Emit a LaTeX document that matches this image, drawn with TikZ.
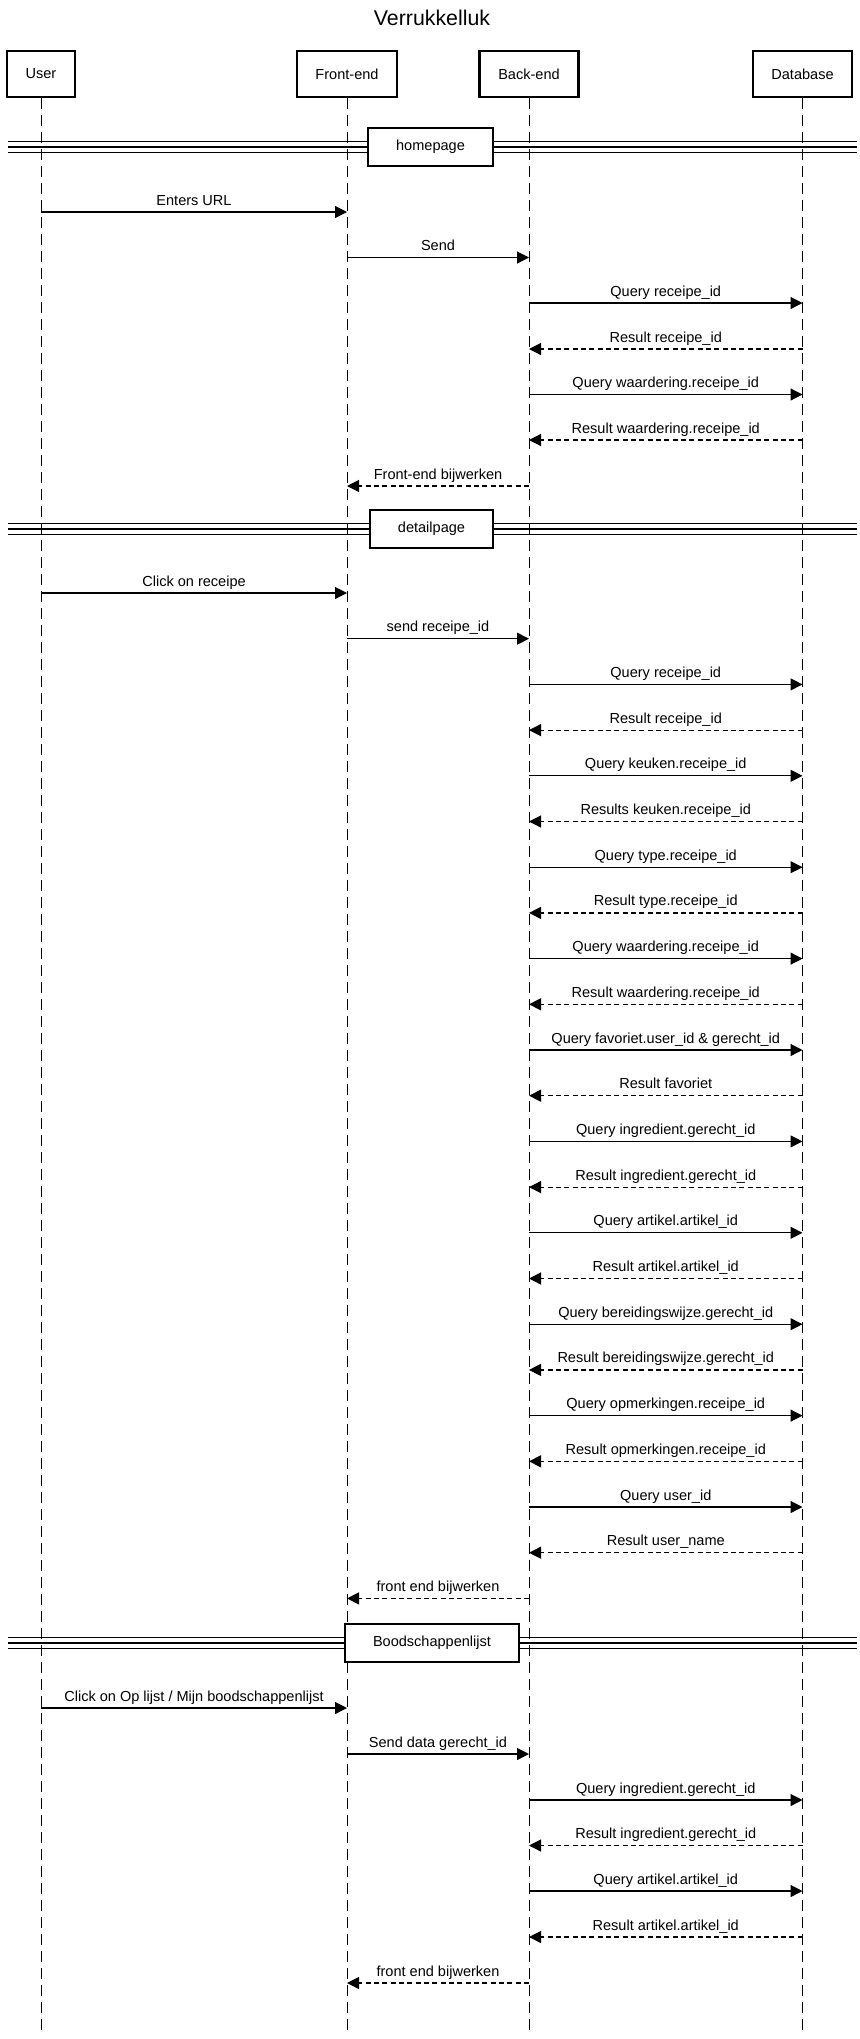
\documentclass[tikz,border=0pt]{standalone}
\usepackage{fontspec}
\setmainfont{Liberation Sans}
\usetikzlibrary{arrows.meta}
\newcommand\seqmsg[5]{%
  \draw[#5] (#1 |- 0,#3) -- (#2 |- 0,#3);
  \path (#1 |- 0,#3) -- (#2 |- 0,#3) node[midway,lbl] {#4};}
\newcommand\seqsep[5]{%
  \draw[sepline] (8,{#1-5.5}) -- (857,{#1-5.5});
  \draw[sepline] (8,#1) -- (857,#1);
  \draw[sepline] (8,{#1+5.5}) -- (857,{#1+5.5});
  \node[sepbox,minimum width=#4] (#2) at (#3,#1) {#5};}
\begin{document}
\begin{tikzpicture}[x=0.75pt,y=-0.75pt,
  txt/.style={font=\fontsize{10.9}{13}\selectfont},
  actor/.style={draw,line width=1.9pt,minimum height=34.5pt,inner sep=0pt,txt},
  lifeline/.style={line width=0.75pt,dash pattern=on 8.25pt off 4.5pt},
  sepline/.style={line width=0.8pt},
  sepbox/.style={draw,fill=white,line width=1pt,minimum height=28.5pt,inner sep=0pt,txt},
  call/.style={line width=0.9pt,-{Triangle[length=9pt,width=9pt]}},
  reply/.style={call,dash pattern=on 3.75pt off 2.5pt},
  lbl/.style={anchor=base,inner sep=0pt,yshift=5.25pt,txt}]
\useasboundingbox[fill=white] (0,0) rectangle (860,2039);
\node[font=\fontsize{16}{19}\selectfont,anchor=base] (title) at (432,25) {Verrukkelluk};
\node[actor,minimum width=51pt] (usr) at (41,74) {User};
\node[actor,minimum width=75pt] (fe) at (347,74) {Front-end};
\node[actor,minimum width=74pt] (be) at (529,74) {Back-end};
\node[actor,minimum width=74pt] (db) at (802.5,74) {Database};
\coordinate (usre) at (41,2036);
\coordinate (fee) at (347,2036);
\coordinate (bee) at (529,2036);
\coordinate (dbe) at (802.5,2036);
\draw[lifeline] (usr.south) -- (usre);
\draw[lifeline] (fe.south) -- (fee);
\draw[lifeline] (be.south) -- (bee);
\draw[lifeline] (db.south) -- (dbe);
% homepage
\seqsep{147}{hp}{430.5}{93.75pt}{homepage}
\seqmsg{usr}{fe}{212}{Enters URL}{call}
\seqmsg{fe}{be}{257.5}{Send}{call}
\seqmsg{be}{db}{303}{Query receipe\_id}{call}
\seqmsg{db}{be}{349}{Result receipe\_id}{reply}
\seqmsg{be}{db}{394.5}{Query waardering.receipe\_id}{call}
\seqmsg{db}{be}{440}{Result waardering.receipe\_id}{reply}
\seqmsg{be}{fe}{486}{Front-end bijwerken}{reply}
% detailpage
\seqsep{529}{dp}{431.5}{92.25pt}{detailpage}
\seqmsg{usr}{fe}{593}{Click on receipe}{call}
\seqmsg{fe}{be}{638.7}{send receipe\_id}{call}
\seqmsg{be}{db}{684.4}{Query receipe\_id}{call}
\seqmsg{db}{be}{730.1}{Result receipe\_id}{reply}
\seqmsg{be}{db}{775.8}{Query keuken.receipe\_id}{call}
\seqmsg{db}{be}{821.5}{Results keuken.receipe\_id}{reply}
\seqmsg{be}{db}{867.2}{Query type.receipe\_id}{call}
\seqmsg{db}{be}{912.9}{Result type.receipe\_id}{reply}
\seqmsg{be}{db}{958.6}{Query waardering.receipe\_id}{call}
\seqmsg{db}{be}{1004.3}{Result waardering.receipe\_id}{reply}
\seqmsg{be}{db}{1050}{Query favoriet.user\_id \& gerecht\_id}{call}
\seqmsg{db}{be}{1095.7}{Result favoriet}{reply}
\seqmsg{be}{db}{1141.4}{Query ingredient.gerecht\_id}{call}
\seqmsg{db}{be}{1187.1}{Result ingredient.gerecht\_id}{reply}
\seqmsg{be}{db}{1232.8}{Query artikel.artikel\_id}{call}
\seqmsg{db}{be}{1278.5}{Result artikel.artikel\_id}{reply}
\seqmsg{be}{db}{1324.2}{Query bereidingswijze.gerecht\_id}{call}
\seqmsg{db}{be}{1369.9}{Result bereidingswijze.gerecht\_id}{reply}
\seqmsg{be}{db}{1415.6}{Query opmerkingen.receipe\_id}{call}
\seqmsg{db}{be}{1461.3}{Result opmerkingen.receipe\_id}{reply}
\seqmsg{be}{db}{1507}{Query user\_id}{call}
\seqmsg{db}{be}{1552.7}{Result user\_name}{reply}
\seqmsg{be}{fe}{1598.4}{front end bijwerken}{reply}
% Boodschappenlijst
\seqsep{1643}{bp}{432}{130.5pt}{Boodschappenlijst}
\seqmsg{usr}{fe}{1708}{Click on Op lijst / Mijn boodschappenlijst}{call}
\seqmsg{fe}{be}{1754}{Send data gerecht\_id}{call}
\seqmsg{be}{db}{1800}{Query ingredient.gerecht\_id}{call}
\seqmsg{db}{be}{1845.5}{Result ingredient.gerecht\_id}{reply}
\seqmsg{be}{db}{1891}{Query artikel.artikel\_id}{call}
\seqmsg{db}{be}{1937}{Result artikel.artikel\_id}{reply}
\seqmsg{be}{fe}{1983}{front end bijwerken}{reply}
\end{tikzpicture}
\end{document}
